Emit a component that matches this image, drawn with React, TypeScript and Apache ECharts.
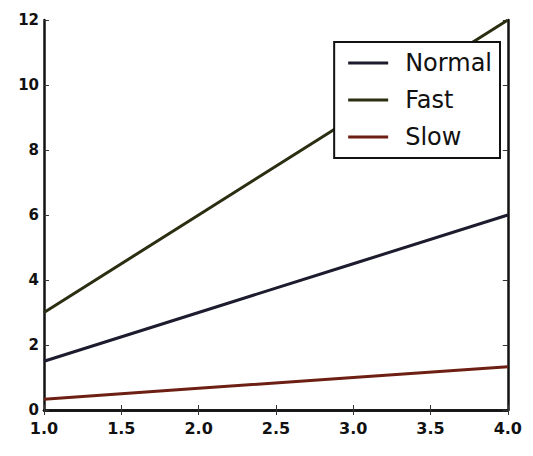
import React, { useEffect, useRef } from "react";
import * as echarts from "echarts";

const xValues = [1, 2, 3, 4];
const normal = [1.5, 3.0, 4.5, 6.0];
const fast = [3.0, 6.0, 9.0, 12.0];
const slow = [0.333, 0.667, 1.0, 1.333];
const seriesNames = ["Normal", "Fast", "Slow"];
const seriesColors = ["#1c1c2e", "#2c2e12", "#6e1f14"];

const FONT = "DejaVu Sans";

export default function App() {
  const ref = useRef<HTMLDivElement>(null);
  useEffect(() => {
    if (!ref.current) return;
    const chart = echarts.init(ref.current, null, { renderer: "svg" });
    const values = [normal, fast, slow];
    const axisLine = { show: true, lineStyle: { color: "#111", width: 2.5 } };
    const tick = { show: true, inside: true, length: 5, lineStyle: { color: "#333", width: 1 } };
    chart.setOption({
      animation: false,
      backgroundColor: "#ffffff",
      grid: { left: 36, right: 12, top: 12, bottom: 38 },
      legend: {
        orient: "vertical",
        right: 25,
        top: 34,
        data: seriesNames,
        icon: "rect",
        itemWidth: 40,
        itemHeight: 3,
        itemGap: 11,
        backgroundColor: "#ffffff",
        borderColor: "#111",
        borderWidth: 2,
        borderRadius: 0,
        padding: [8, 8, 8, 14],
        textStyle: { fontFamily: FONT, fontSize: 24, color: "#111", lineHeight: 26, padding: [0, 0, 0, 12] },
      },
      xAxis: [
        {
          type: "value",
          min: 1,
          max: 4,
          interval: 0.5,
          axisLine,
          axisTick: tick,
          splitLine: { show: false },
          axisLabel: {
            fontFamily: FONT,
            fontSize: 16,
            fontWeight: "bold",
            color: "#111",
            margin: 10,
            formatter: (v: number) => v.toFixed(1),
          },
        },
        {
          type: "value",
          position: "top",
          min: 1,
          max: 4,
          interval: 0.5,
          axisLine,
          axisTick: tick,
          splitLine: { show: false },
          axisLabel: { show: false },
        },
      ],
      yAxis: [
        {
          type: "value",
          min: 0,
          max: 12,
          interval: 2,
          axisLine,
          axisTick: tick,
          splitLine: { show: false },
          axisLabel: { fontFamily: FONT, fontSize: 15, fontWeight: "bold", color: "#111", margin: 5 },
        },
        {
          type: "value",
          position: "right",
          min: 0,
          max: 12,
          interval: 2,
          axisLine,
          axisTick: tick,
          splitLine: { show: false },
          axisLabel: { show: false },
        },
      ],
      series: seriesNames.map((name, i) => ({
        name,
        type: "line",
        data: xValues.map((x, j) => [x, values[i][j]]),
        showSymbol: false,
        symbol: "none",
        color: seriesColors[i],
        lineStyle: { color: seriesColors[i], width: 3 },
      })),
    });
    return () => chart.dispose();
  }, []);
  return <div ref={ref} style={{ width: 517, height: 440 }} />;
}
